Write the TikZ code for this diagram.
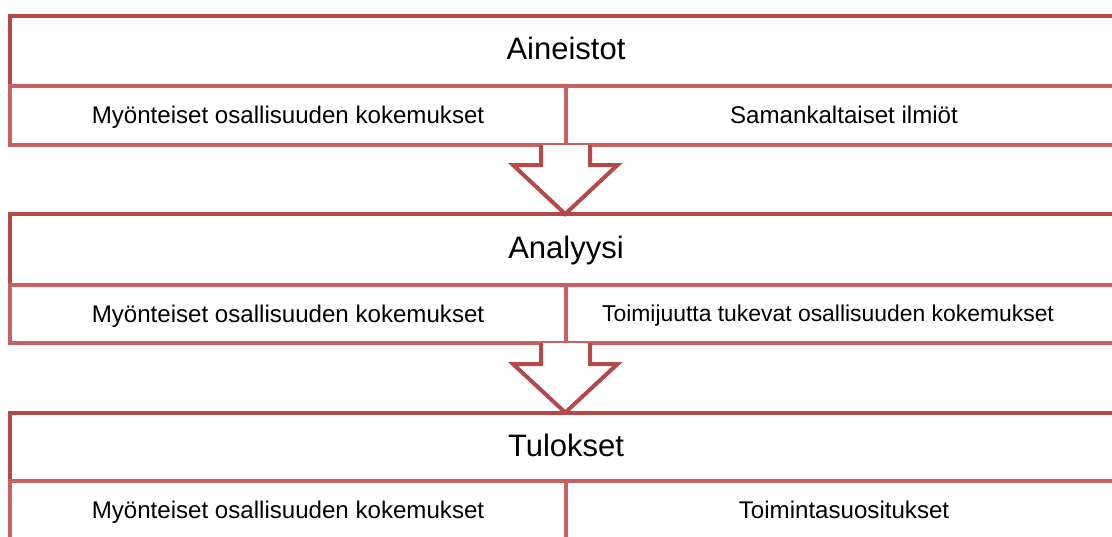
\documentclass[tikz,border=0pt]{standalone}
\usepackage{fontspec}
\setmainfont{Liberation Sans}
\usetikzlibrary{calc}
\definecolor{darkred}{RGB}{181,73,74}
\definecolor{lightred}{RGB}{200,98,98}
\begin{document}
\begin{tikzpicture}[x=1pt,y=-1pt,
  headbox/.style={draw=darkred,line width=4pt,rectangle,inner sep=0pt,outer sep=0pt,
    minimum width=1111.5pt},
  cellbox/.style={draw=lightred,line width=4pt,rectangle,inner sep=0pt,outer sep=0pt},
  celltext/.style={inner sep=0pt,text height=17.3pt,text depth=0pt,font=\fontsize{24.1}{28}\selectfont},
  headtext/.style={inner sep=0pt,text height=22.2pt,text depth=0pt,font=\fontsize{31}{36}\selectfont},
  blockarrow/.style={draw=darkred,line width=4pt,fill=white}]
\useasboundingbox (0,0) rectangle (1112,536);
\clip (0,0) rectangle (1112,536);
% block 1
\node[headbox,minimum height=70.5pt] (h1) at (565.25,50.75) {};
\node[headtext] (ht1) at (566,48.5) {Aineistot};
\node[cellbox,minimum width=556pt,minimum height=59pt] (l1) at (287.5,115.5) {};
\node[celltext] (lt1) at (288,114.5) {Myönteiset osallisuuden kokemukset};
\node[cellbox,minimum width=555.5pt,minimum height=59pt] (r1) at (843.25,115.5) {};
\node[celltext] (t1) at (844,114.5) {Samankaltaiset ilmiöt};
% block 2
\node[headbox,minimum height=71pt] (h2) at (565.25,249.5) {};
\node[headtext] (ht2) at (566,247.5) {Analyysi};
\node[cellbox,minimum width=556pt,minimum height=58pt] (l2) at (287.5,314) {};
\node[celltext] (lt2) at (288,313.5) {Myönteiset osallisuuden kokemukset};
\node[cellbox,minimum width=555.5pt,minimum height=58pt] (r2) at (843.25,314) {};
\node[celltext,text height=16.4pt,font=\fontsize{22.9}{27}\selectfont] (t2) at (828,313.5) {Toimijuutta tukevat osallisuuden kokemukset};
% block 3
\node[headbox,minimum height=68pt] (h3) at (565.25,446.5) {};
\node[headtext] (ht3) at (566,445.5) {Tulokset};
\node[cellbox,minimum width=556pt,minimum height=59.5pt] (l3) at (287.5,510.25) {};
\node[celltext] (lt3) at (288,509.5) {Myönteiset osallisuuden kokemukset};
\node[cellbox,minimum width=555.5pt,minimum height=59.5pt] (r3) at (843.25,510.25) {};
\node[celltext] (t3) at (844,509.5) {Toimintasuositukset};
% arrows
\draw[blockarrow] ($(l1.south east)+(-24.5,0)$) -- ++(0,20) -- ++(-28,0) -- (h2.north) -- ($(l1.south east)+(52,20)$) -- ++(-27.5,0) -- ++(0,-20);
\draw[blockarrow] ($(l2.south east)+(-24.5,0)$) -- ++(0,21) -- ++(-28,0) -- (h3.north) -- ($(l2.south east)+(52,21)$) -- ++(-27.5,0) -- ++(0,-21);
\end{tikzpicture}
\end{document}
